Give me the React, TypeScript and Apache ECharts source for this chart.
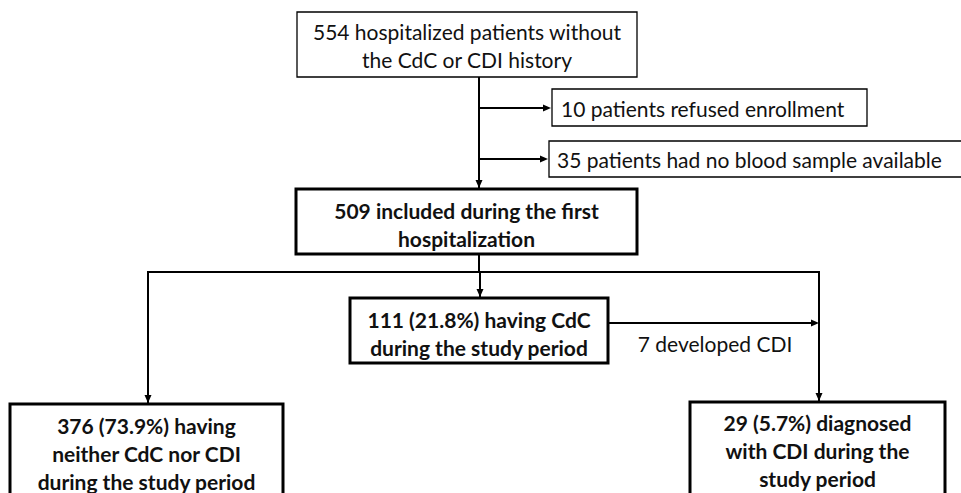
import React, { useEffect, useRef } from "react";
import * as echarts from "echarts";

// ---- content ----
const topBox = ["554 hospitalized patients without", "the CdC or CDI history"];
const exclusions = ["10 patients refused enrollment", "35 patients had no blood sample available"];
const includedBox = ["509 included during the first", "hospitalization"];
const cdcBox = ["111 (21.8%) having CdC", "during the study period"];
const transitionLabel = "7 developed CDI";
const neitherBox = ["376 (73.9%) having", "neither CdC nor CDI", "during the study period"];
const cdiBox = ["29 (5.7%) diagnosed", "with CDI during the", "study period"];

const FONT = "Lato, 'Open Sans', sans-serif";
const FS = 21;
const LH = 28;

export default function App() {
  const ref = useRef<HTMLDivElement>(null);
  useEffect(() => {
    document.body.style.margin = "0";
    const chart = echarts.init(ref.current!, null, { renderer: "svg" });
    const els: any[] = [];

    const box = (x: number, y: number, w: number, h: number, bold: boolean, lines: string[], cy: number, align = "center", tx?: number) => {
      els.push({
        type: "rect",
        shape: { x, y, width: w, height: h },
        style: { fill: "#fff", stroke: "#000", lineWidth: bold ? 3 : 1.3 },
      });
      lines.forEach((t, i) => {
        els.push({
          type: "text",
          x: tx !== undefined ? tx : x + w / 2,
          y: cy + i * LH,
          style: {
            text: t,
            fill: "#111",
            font: `${bold ? "bold " : ""}${FS}px ${FONT}`,
            textAlign: align,
            textVerticalAlign: "middle",
          },
        });
      });
    };
    const line = (pts: number[][]) => {
      els.push({ type: "polyline", shape: { points: pts }, style: { stroke: "#000", lineWidth: 2, fill: "none" } });
    };
    const arrowDown = (x: number, y: number) => {
      els.push({ type: "polygon", shape: { points: [[x - 3.5, y - 8], [x + 3.5, y - 8], [x, y]] }, style: { fill: "#000" } });
    };
    const arrowRight = (x: number, y: number) => {
      els.push({ type: "polygon", shape: { points: [[x - 8, y - 3.5], [x - 8, y + 3.5], [x, y]] }, style: { fill: "#000" } });
    };

    // connectors
    line([[479, 77], [479, 188]]);
    arrowDown(479, 188);
    line([[480, 108], [548, 108]]);
    arrowRight(551, 108);
    line([[480, 159], [545, 159]]);
    arrowRight(548, 159);
    line([[479, 254], [479, 272]]);
    line([[148, 403], [148, 272], [819, 272], [819, 402]]);
    arrowDown(148, 403);
    arrowDown(819, 401);
    line([[480, 272], [480, 297]]);
    arrowDown(480, 297);
    line([[608, 323], [815, 323]]);
    arrowRight(819, 323);

    // boxes
    box(297, 12, 340, 65, false, topBox, 31);
    box(552, 89, 315, 37, false, [exclusions[0]], 108, "left", 561);
    box(549, 141, 413, 36, false, [exclusions[1]], 159, "left", 557);
    box(296, 189, 341, 65, true, includedBox, 210);
    box(350, 298, 258, 65, true, cdcBox, 319);
    box(10, 404, 273, 100, true, neitherBox, 425);
    box(690, 402, 255, 100, true, cdiBox, 422);

    els.push({
      type: "text",
      x: 715,
      y: 343,
      style: { text: transitionLabel, fill: "#111", font: `${FS}px ${FONT}`, textAlign: "center", textVerticalAlign: "middle" },
    });

    chart.setOption({ animation: false, backgroundColor: "#fff", graphic: { elements: els } });
    return () => chart.dispose();
  }, []);
  return <div ref={ref} style={{ position: "absolute", left: 0, top: 0, width: 961, height: 493 }} />;
}
